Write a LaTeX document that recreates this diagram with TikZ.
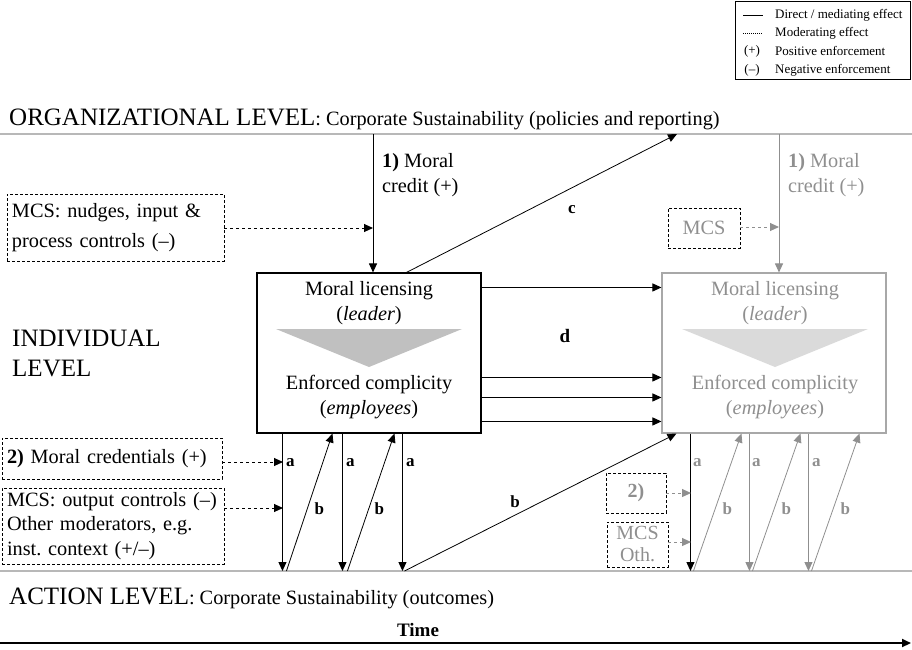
\documentclass[tikz,border=0pt]{standalone}
\usepackage{fontspec}
\setmainfont{Liberation Serif}
\usetikzlibrary{arrows.meta,positioning,calc}
\definecolor{Fade}{HTML}{8F8F8F}
\definecolor{FadeLine}{HTML}{A8A8A8}
\definecolor{Level}{HTML}{B8B8B8}
\definecolor{Wedge}{HTML}{C0C0C0}
\definecolor{WedgeFade}{HTML}{DADADA}
\newcommand{\levelfont}{\fontsize{25}{30}\selectfont}
\newcommand{\bodyfont}{\fontsize{20.3}{25}\selectfont}
\newcommand{\keyfont}{\fontsize{13}{15}\selectfont}
\newcommand{\tagfont}{\bfseries\fontsize{17}{20}\selectfont}

\begin{document}
\frenchspacing
\begin{tikzpicture}[x=1pt,y=-1pt,>={Triangle[length=9pt,width=8pt]},
    txt/.style={inner sep=0pt,font=\bodyfont,align=left},
    tag/.style={inner sep=0pt,font=\tagfont},
    core/.style={draw,line width=1.1pt,minimum width=224pt,minimum height=160pt},
    modbox/.style={draw,dash pattern=on 3pt off 2pt,line width=0.8pt,inner sep=0pt},
    link/.style={->,line width=1pt},
    modlink/.style={->,dashed,line width=1pt},
    level/.style={Level,line width=1.5pt}]
  \useasboundingbox (0,0) rectangle (912,649);

  % key
  \draw[line width=0.8pt] (735,1) rectangle (910,79);
  \draw[line width=0.8pt] (743,15) -- (763,15);
  \draw[line width=0.8pt,dash pattern=on 1pt off 1pt] (743,33) -- (763,33);
  \node[font=\keyfont] at (752,51) {(+)};
  \node[font=\keyfont] at (752,70) {(–)};
  \node[font=\keyfont,anchor=west,inner sep=0pt] (k1) at (775,15) {Direct / mediating effect};
  \node[font=\keyfont,anchor=west,inner sep=0pt] (k2) at (775,33) {Moderating effect};
  \node[font=\keyfont,anchor=west,inner sep=0pt] (k3) at (775,51) {Positive enforcement};
  \node[font=\keyfont,anchor=west,inner sep=0pt] (k4) at (775,70) {Negative enforcement};

  % levels
  \node[anchor=west,inner sep=0pt] (orgT) at (9,119)
    {{\levelfont ORGANIZATIONAL LEVEL}{\bodyfont: Corporate Sustainability (policies and reporting)}};
  \coordinate (org) at (0,134);
  \coordinate (orgE) at (912,134);
  \draw[level] (org) -- (orgE);
  \node[anchor=west,inner sep=0pt,font=\levelfont,align=left] (indT) at (12,353) {INDIVIDUAL\\LEVEL};
  \node[anchor=west,inner sep=0pt] (actT) at (9,598)
    {{\levelfont ACTION LEVEL}{\bodyfont: Corporate Sustainability (outcomes)}};
  \coordinate (act) at (0,571);
  \coordinate (actE) at (912,571);
  \draw[level] (act) -- (actE);

  % individual level, now and later
  \node[core] (lic) at (369,353) {};
  \fill[Wedge] (276,329) -- (462,329) -- (369,367) -- cycle;
  \node[txt,align=center] (lead) at (369,303) {Moral licensing\\(\textit{leader})};
  \node[txt,align=center] (emp) at (369,397.5) {Enforced complicity\\(\textit{employees})};
  \node[core,draw=FadeLine] (nxt) at (774,353) {};
  \fill[WedgeFade] (682,329) -- (868,329) -- (775,367) -- cycle;
  \node[txt,align=center,text=Fade] (leadF) at (775,303) {Moral licensing\\(\textit{leader})};
  \node[txt,align=center,text=Fade] (empF) at (775,397.5) {Enforced complicity\\(\textit{employees})};

  % moral credit
  \coordinate (cr) at (373,134);
  \draw[link] (cr) -- (cr |- lic.north);
  \node[txt,anchor=west] (crT) at (382,175.5) {\textbf{1)} Moral\\credit (+)};
  \node[modbox,minimum width=217pt,minimum height=67pt,text width=207pt,
    font=\fontsize{20.3}{30}\selectfont,align=left] (mcsA) at (115.5,227.5)
    {MCS: nudges, input \&\\process controls (–)};
  \coordinate (inA) at (373,228);
  \draw[modlink] (mcsA.east |- inA) -- (inA);
  \coordinate (crF) at (779,134);
  \draw[link,Fade] (crF) -- (crF |- nxt.north);
  \node[txt,anchor=west,text=Fade] (crTF) at (788,175.5) {\textbf{1)} Moral\\credit (+)};
  \node[modbox,minimum width=72pt,minimum height=40pt,text=Fade,font=\bodyfont] (mcsB) at (704,228) {MCS};
  \coordinate (inB) at (779,227);
  \draw[modlink,Fade] (mcsB.east |- inB) -- (inB);

  % c and d
  \coordinate (cTip) at (677,134);
  \draw[link,line width=0.8pt] ($(lic.north west)+(150,0)$) -- (cTip);
  \node[tag] at (572,210) {c};
  \foreach \dy in {15,105,125,149}
    \draw[link] ($(lic.north east)+(0,\dy)$) -- ($(nxt.north west)+(0,\dy)$);
  \node[tag,font=\bfseries\fontsize{19}{22}\selectfont] at (565,336) {d};

  % a and b, now
  \foreach \dx in {26,86,146}
    \draw[link] ($(lic.south west)+(\dx,0)$) -- ($(lic.south west |- act)+(\dx,0)$);
  \foreach \lo/\hi in {30/76,91/138}
    \draw[link,line width=0.8pt] ($(lic.south west |- act)+(\lo,0)$) -- ($(lic.south west)+(\hi,0)$);
  \foreach \dx in {34,94,154}
    \node[tag] at ($(lic.south west)+(\dx,29)$) {a};
  \foreach \dx in {63,123}
    \node[tag] at ($(lic.south west)+(\dx,75)$) {b};
  \draw[link,line width=0.8pt] ($(lic.south west |- act)+(148,0)$) -- ($(nxt.south west)+(15,0)$);
  \node[tag] at (515,502) {b};

  \node[modbox,minimum width=220pt,minimum height=41pt,text width=210pt,
    font=\bodyfont,align=left] (cred) at (112,458.5) {\textbf{2)} Moral credentials (+)};
  \node[modbox,minimum width=222pt,minimum height=76pt,text width=212pt,
    font=\fontsize{20.3}{24.5}\selectfont,align=left] (mcsC) at (113,526)
    {MCS: output controls (–)\\Other moderators, e.g.\\inst. context (+/–)};
  \coordinate (inC) at (283,462);
  \coordinate (inD) at (283,508);
  \draw[modlink] (cred.east |- inC) -- (inC);
  \draw[modlink] (mcsC.east |- inD) -- (inD);

  % a and b, later
  \draw[link] ($(nxt.south west)+(29,0)$) -- ($(nxt.south west |- act)+(29,0)$);
  \foreach \dx in {88,147}
    \draw[link,Fade] ($(nxt.south west)+(\dx,0)$) -- ($(nxt.south west |- act)+(\dx,0)$);
  \foreach \lo/\hi in {32/80,91/139,150/198}
    \draw[link,Fade,line width=0.8pt] ($(nxt.south west |- act)+(\lo,0)$) -- ($(nxt.south west)+(\hi,0)$);
  \foreach \dx in {36,95,155}
    \node[tag,text=Fade] at ($(nxt.south west)+(\dx,29)$) {a};
  \foreach \dx in {66,125,184}
    \node[tag,text=Fade] at ($(nxt.south west)+(\dx,75)$) {b};

  \node[modbox,minimum width=60pt,minimum height=40pt,text=Fade,
    font=\bfseries\fontsize{20}{24}\selectfont] (credF) at (636,493) {2)};
  \node[modbox,minimum width=61pt,minimum height=45pt,text=Fade,
    font=\fontsize{20}{22}\selectfont,align=center] (mcsD) at (637.5,544.5) {MCS\\Oth.};
  \coordinate (inE) at (691,493);
  \coordinate (inF) at (691,542);
  \draw[modlink,Fade] (credF.east |- inE) -- (inE);
  \draw[modlink,Fade] (mcsD.east |- inF) -- (inF);

  % time
  \node[font=\bfseries\fontsize{19}{22}\selectfont] (time) at (418,630) {Time};
  \coordinate (t0) at (0,643);
  \coordinate (t1) at (911,643);
  \draw[->,line width=2pt] (t0) -- (t1);
\end{tikzpicture}
\end{document}
